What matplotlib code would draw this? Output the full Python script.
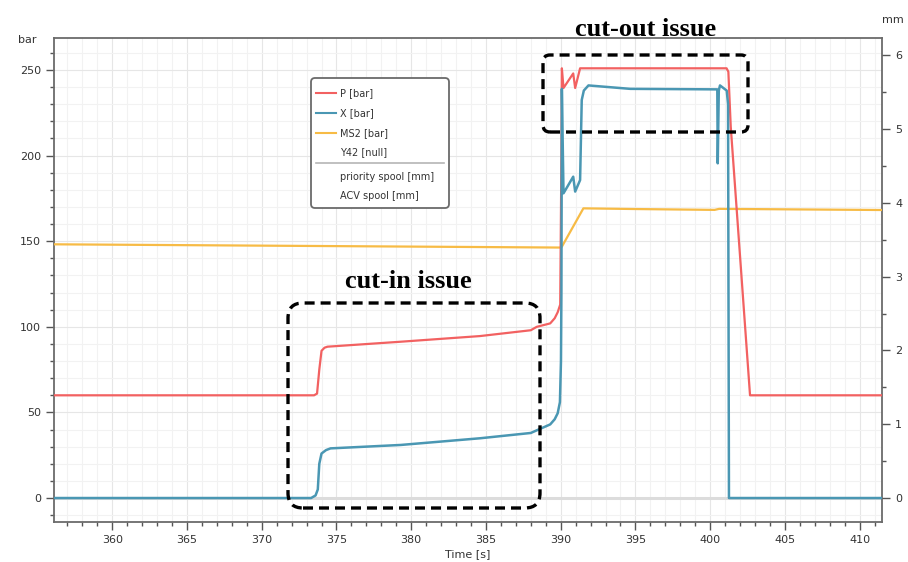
import matplotlib
matplotlib.use("Agg")
import matplotlib.pyplot as plt
from matplotlib.patches import FancyBboxPatch
from matplotlib.lines import Line2D
from matplotlib.ticker import MultipleLocator

# P [bar] - red
p_time = [356.0, 373.5, 373.7, 373.85, 374.0, 374.2, 374.4, 379.3, 384.6, 388.0, 388.4,
          389.3, 389.6, 389.8, 389.97, 390.05, 390.08, 390.19, 390.84, 390.97, 391.3,
          401.1, 401.22, 401.38, 402.67, 412.0]
p_bar = [60, 60, 61, 75, 86, 87.8, 88.4, 91.3, 94.6, 98, 100,
         102, 105, 108.5, 113, 200, 251, 239.5, 248, 239.5, 251,
         251, 249, 216.9, 60, 60]

# X [bar] - blue
x_time = [356.0, 373.3, 373.6, 373.75, 373.85, 374.0, 374.3, 374.6, 379.3, 384.6, 388.0,
          389.3, 389.6, 389.8, 389.95, 390.02, 390.05, 390.08, 390.19, 390.84, 390.97,
          391.3, 391.41, 391.55, 391.86, 394.65, 400.44, 400.48, 400.51, 400.58, 400.66,
          401.11, 401.2, 401.26, 412.0]
x_bar = [0, 0, 1.5, 5, 20, 26, 28, 29, 31, 34.9, 38,
         43, 46, 49.5, 56, 80, 120, 239, 178, 187.7, 179,
         185.7, 232.5, 238, 241, 239, 238.7, 238.7, 195.5, 238, 241,
         238, 230, 0, 0]

# MS2 [bar] - orange
ms2_time = [356.0, 390.0, 390.08, 391.52, 395.0, 400.3, 400.6, 412.0]
ms2_bar = [148.2, 146.3, 146.8, 169.2, 168.8, 168.3, 168.9, 168.2]

# Y42 [null] - grey base line
y42_time = [356.0, 412.0]
y42_val = [0, 0]

legend_labels = ["P [bar]", "X [bar]", "MS2 [bar]", "Y42 [null]",
                 "priority spool [mm]", "ACV spool [mm]"]

RED = "#f26161"
BLUE = "#4a97b3"
ORANGE = "#f7bb45"
W, H = 908, 562

fig = plt.figure(figsize=(W / 100, H / 100), dpi=100)
ax = fig.add_axes([54 / W, 40 / H, 828 / W, 484 / H])

ax.plot(y42_time, y42_val, color="#dcdcdc", lw=2.2, zorder=2)
ax.plot(ms2_time, ms2_bar, color=ORANGE, lw=1.6, zorder=3)
ax.plot(p_time, p_bar, color=RED, lw=1.6, zorder=4)
ax.plot(x_time, x_bar, color=BLUE, lw=1.8, zorder=5)

ax.set_xlim(356.1, 411.5)
ax.set_ylim(-14, 268.7)
ax.xaxis.set_major_locator(MultipleLocator(5))
ax.xaxis.set_minor_locator(MultipleLocator(1))
ax.yaxis.set_major_locator(MultipleLocator(50))
ax.yaxis.set_minor_locator(MultipleLocator(10))
ax.grid(which="major", color="#e6e6e6", lw=0.8)
ax.grid(which="minor", color="#f2f2f2", lw=0.8)
ax.set_axisbelow(True)

for s in ax.spines.values():
    s.set_color("#6b6b6b")
    s.set_linewidth(1.3)

ax.tick_params(which="major", length=6, width=1, color="#555555",
               labelsize=8, labelcolor="#333333")
ax.tick_params(which="minor", length=3, width=1, color="#555555")
ax.set_xlabel("Time [s]", fontsize=8, color="#333333", labelpad=3)

ax2 = ax.twinx()
ax2.set_ylim(-0.325, 6.233)
ax2.yaxis.set_major_locator(MultipleLocator(1))
ax2.yaxis.set_minor_locator(MultipleLocator(0.5))
ax2.tick_params(which="major", length=6, width=1, color="#555555",
                labelsize=8, labelcolor="#333333")
ax2.tick_params(which="minor", length=3, width=1, color="#555555")
for s in ax2.spines.values():
    s.set_visible(False)

fig.text(27 / W, 1 - 40 / H, "bar", fontsize=8, color="#333333", ha="center", va="center")
fig.text(893 / W, 1 - 20 / H, "mm", fontsize=8, color="#333333", ha="center", va="center")


def add_box(x0, y0, x1, y1, r, **kw):
    box = FancyBboxPatch((x0 / 100, (H - y1) / 100), (x1 - x0) / 100, (y1 - y0) / 100,
                         boxstyle=f"round,pad=0,rounding_size={r / 100}",
                         transform=fig.dpi_scale_trans, **kw)
    fig.add_artist(box)


# legend drawn by hand
add_box(311, 78, 449, 208, 4, fc="white", ec="#6a6a6a", lw=1.3, zorder=10)
leg_colors = [RED, BLUE, ORANGE, None, None, None]
leg_y = [93, 113, 133, 152, 177, 196]
for lab, col, yy in zip(legend_labels, leg_colors, leg_y):
    if col:
        fig.add_artist(Line2D([316 / W, 336 / W], [1 - yy / H] * 2, color=col, lw=1.5, zorder=11))
    fig.text(340 / W, 1 - yy / H, lab, fontsize=7, color="#333333", va="center", zorder=12)
fig.add_artist(Line2D([316 / W, 444 / W], [1 - 163 / H] * 2, color="#b5b5b5", lw=1.2, zorder=11))

# annotation boxes
add_box(543, 55, 748, 132, 7, fill=False, ec="black", lw=2.4, ls=(0, (3, 1.8)), zorder=20)
add_box(288, 303, 540, 508, 15, fill=False, ec="black", lw=2.4, ls=(0, (3, 1.8)), zorder=20)
fig.text(646 / W, 1 - 29 / H, "cut-out issue", fontsize=19, fontweight="bold",
         family="Liberation Serif", ha="center", va="center")
fig.text(408 / W, 1 - 282 / H, "cut-in issue", fontsize=19, fontweight="bold",
         family="Liberation Serif", ha="center", va="center")

fig.savefig("out.png", dpi=100)
